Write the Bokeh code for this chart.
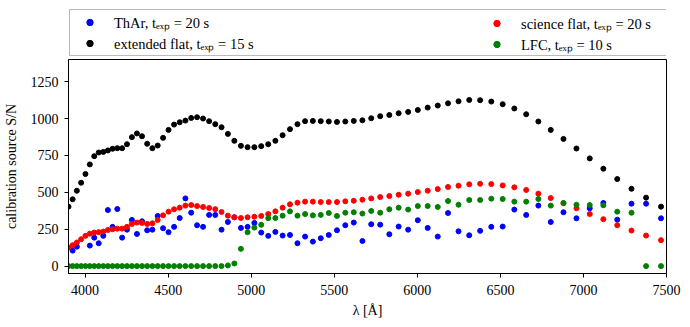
import math
from bokeh.plotting import figure
from bokeh.layouts import column
from bokeh.models import Legend, LegendItem, FixedTicker, Range1d
from bokeh.embed import file_html
from bokeh.resources import INLINE

nan = float("nan")

# order central wavelengths [Å]
wavelength = [3900.0, 3925.0, 3950.3, 3976.0, 4002.0, 4028.3, 4055.0, 4082.0, 4109.4, 4137.2,
              4165.3, 4193.8, 4222.8, 4252.1, 4281.8, 4312.0, 4342.6, 4373.6, 4405.0, 4437.0,
              4469.3, 4502.2, 4535.6, 4569.4, 4603.8, 4638.6, 4674.0, 4710.0, 4746.5, 4783.6,
              4821.3, 4859.5, 4898.4, 4937.9, 4978.0, 5018.9, 5060.3, 5102.5, 5145.4, 5189.0,
              5233.3, 5278.4, 5324.3, 5371.1, 5418.6, 5467.0, 5516.2, 5566.4, 5617.4, 5669.4,
              5722.4, 5776.4, 5831.4, 5887.5, 5944.7, 6002.9, 6062.4, 6123.0, 6184.8, 6248.0,
              6312.4, 6378.1, 6445.3, 6513.8, 6583.9, 6655.4, 6728.6, 6803.3, 6879.8, 6958.0,
              7037.9, 7119.8, 7203.5, 7289.3, 7377.1, 7467.1]

thar = [nan, 105, 132, nan, nan, 139, 193, 155, 205, 380,
        266, 387, 193, 247, 313, 218, 304, 243, 247, 340,
        257, 230, 266, 326, 459, 362, 277, 266, 347, 347,
        247, 299, 331, 259, 266, 293, 227, 205, 232, 207,
        211, 155, 200, 166, 189, 211, 243, 277, 295, 170,
        284, 281, 216, 268, 247, 311, 259, 200, 360, 236,
        209, 239, 266, 268, 383, 347, 410, 299, 365, 324,
        392, 428, 315, 423, 423, 324]

extended_flat = [403, 453, 511, 565, 624, 689, 745, 770, 774, 784,
                 795, 799, 799, 826, 874, 899, 880, 829, 799, 817,
                 869, 923, 959, 975, 986, 1004, 1009, 1000, 982, 962,
                 941, 896, 849, 815, 806, 806, 813, 826, 849, 887,
                 928, 962, 982, 984, 982, 980, 977, 980, 984, 988,
                 1002, 1016, 1024, 1036, 1045, 1058, 1074, 1088, 1103, 1117,
                 1126, 1124, 1115, 1097, 1068, 1029, 980, 923, 862, 797,
                 730, 660, 590, 524, 464, 403]

science_flat = [126, 142, 160, 182, 205, 220, 227, 230, 234, 245,
                250, 254, 254, 266, 286, 295, 293, 286, 290, 313,
                344, 369, 385, 396, 410, 414, 407, 401, 394, 386,
                367, 342, 331, 326, 331, 335, 340, 353, 371, 396,
                419, 430, 437, 437, 434, 434, 434, 439, 443, 450,
                459, 468, 475, 484, 491, 502, 511, 522, 536, 545,
                554, 558, 556, 547, 534, 516, 491, 461, 426, 392,
                353, 318, 277, 241, 207, 176]

lfc = [0, 0, 0, 0, 0, 0, 0, 0, 0, 0,
       0, 0, 0, 0, 0, 0, 0, 0, 0, 0,
       0, 0, 0, 0, 0, 0, 0, 0, 0, 0,
       0, 5, 18, 117, 230, 261, 280, 325, 326, 342,
       371, 342, 353, 344, 347, 360, 340, 362, 365, 356,
       374, 362, 385, 396, 383, 407, 407, 401, 441, 416,
       448, 448, 457, 455, 437, 437, 455, 410, 428, 416,
       414, 412, 369, 362, 0, 0]

labels = ["ThAr, tₑₓₚ = 20 s", "extended flat, tₑₓₚ = 15 s",
          "science flat, tₑₓₚ = 20 s", "LFC, tₑₓₚ = 10 s"]
colors = ["blue", "black", "red", "green"]
xticks = [4000, 4500, 5000, 5500, 6000, 6500, 7000, 7500]
yticks = [0, 250, 500, 750, 1000, 1250]

FONT = "Liberation Serif"
W = 684

# ---- main plot ----
p = figure(width=W, height=264, output_backend="svg", toolbar_location=None,
           x_range=Range1d(3900, 7500), y_range=Range1d(-50, 1400),
           min_border_left=67, min_border_right=18, min_border_top=2, min_border_bottom=48)
p.xgrid.visible = False
p.ygrid.visible = False
p.outline_line_color = "black"
p.outline_line_alpha = 1.0
p.outline_line_width = 1

for ax in (p.xaxis[0], p.yaxis[0]):
    ax.major_tick_in = 0
    ax.major_tick_out = 4
    ax.minor_tick_line_color = None
    ax.axis_line_color = "black"
    ax.major_tick_line_color = "black"
    ax.major_label_text_font = FONT
    ax.major_label_text_font_size = "14px"
    ax.major_label_text_color = "black"
    ax.axis_label_text_font = FONT
    ax.axis_label_text_font_size = "14px"
    ax.axis_label_text_font_style = "normal"
    ax.axis_label_text_color = "black"

p.xaxis.major_label_standoff = 7
p.xaxis.axis_label_standoff = 5
p.yaxis.major_label_standoff = 6
p.yaxis.axis_label_standoff = 9

p.xaxis.ticker = FixedTicker(ticks=xticks)
p.yaxis.ticker = FixedTicker(ticks=yticks)
p.xaxis.axis_label = "λ [Å]"
p.yaxis.axis_label = "calibration source S/N"

series = [thar, extended_flat, science_flat, lfc]
for ys, c in zip(series, colors):
    p.scatter(wavelength, ys, size=5, color=c, line_color=c)

# ---- legend strip above the plot (frame aligned with the plot's frame) ----
lg = figure(width=W, height=57, output_backend="svg", toolbar_location=None,
            x_range=Range1d(0, 1), y_range=Range1d(0, 1),
            min_border_left=67, min_border_right=18, min_border_top=0, min_border_bottom=0,
            x_axis_location=None, y_axis_location=None)
lg.xgrid.visible = False
lg.ygrid.visible = False
lg.outline_line_color = None

# same series, out of this strip's view: only their legend glyphs show
leg_rends = [lg.scatter(wavelength, ys, size=5, color=c, line_color=c)
             for ys, c in zip(series, colors)]

common = dict(glyph_width=35, glyph_height=16, label_height=16, label_standoff=7,
              padding=2, spacing=1, margin=0,
              label_text_font=FONT, label_text_font_size="14.5px", label_text_color="black")

leg1 = Legend(items=[LegendItem(label=labels[0], renderers=[leg_rends[0]]),
                     LegendItem(label=labels[1], renderers=[leg_rends[1]])],
              location=(1, 1), label_width=550,
              border_line_color="#bbbbbb", border_line_width=1, border_line_alpha=1.0,
              background_fill_color="white", background_fill_alpha=1.0, **common)
leg2 = Legend(items=[LegendItem(label=labels[2], renderers=[leg_rends[2]]),
                     LegendItem(label=labels[3], renderers=[leg_rends[3]])],
              location=(409, 1),
              border_line_alpha=0, background_fill_alpha=0, **common)
lg.add_layout(leg1, "center")
lg.add_layout(leg2, "center")

layout = column(lg, p, spacing=0)
open("out.html", "w").write(file_html(layout, INLINE))
